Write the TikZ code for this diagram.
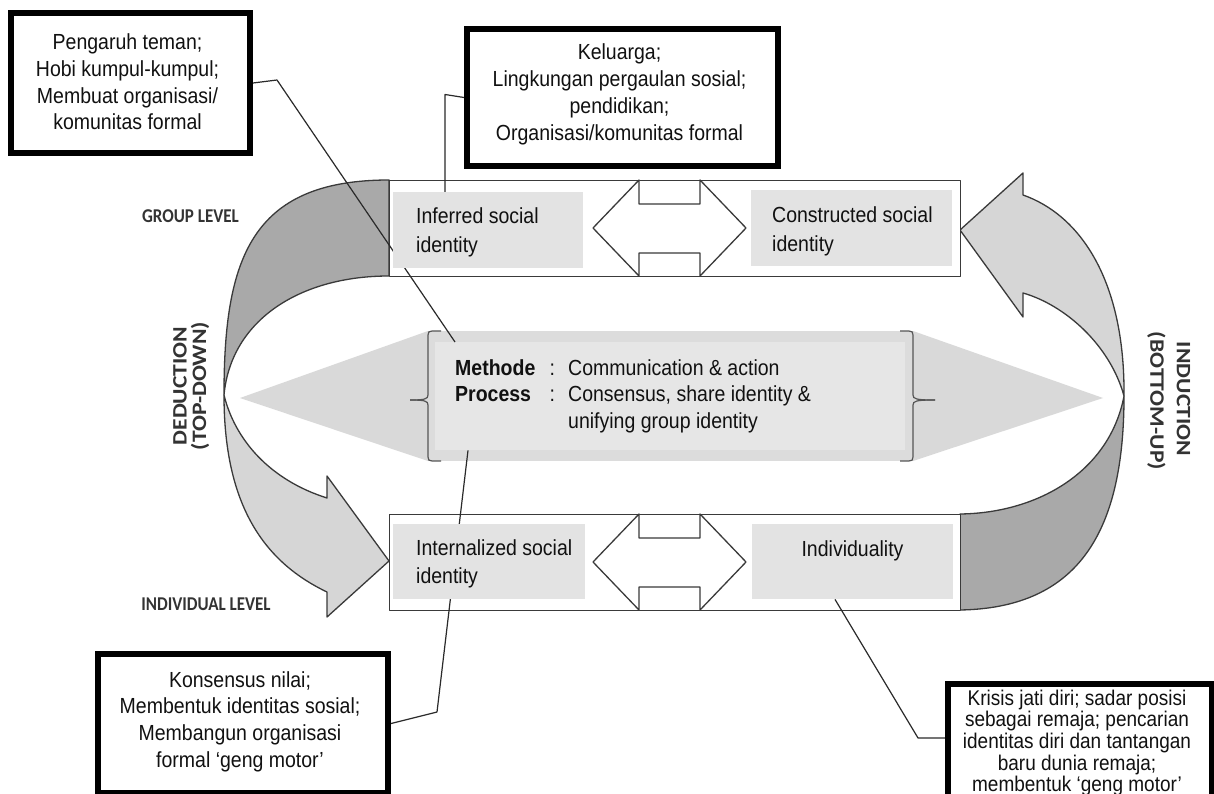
\documentclass[tikz,border=0pt]{standalone}
\usepackage{fontspec}
\setmainfont{Liberation Sans}
\newfontfamily\labfont{Carlito}
\usetikzlibrary{calc}
\pgfdeclarelayer{back}
\pgfdeclarelayer{mid}
\pgfsetlayers{back,mid,main}
\definecolor{lightarrow}{HTML}{D6D6D6}
\definecolor{darkarrow}{HTML}{A9A9A9}
\definecolor{conec}{HTML}{D9D9D9}
\definecolor{coreout}{HTML}{DCDCDC}
\definecolor{corein}{HTML}{E6E6E6}
\definecolor{idfill}{HTML}{E3E3E3}
\definecolor{edge}{HTML}{3A3A3A}
\definecolor{txt}{HTML}{111111}
\definecolor{labc}{HTML}{333333}
\definecolor{connc}{HTML}{2A2A2A}
\definecolor{brkc}{HTML}{555555}
\newcommand{\tall}[1]{\scalebox{1}[1.12]{#1}}
\begin{document}
\begin{tikzpicture}[x=1pt,y=-1pt,
  outline/.style={draw=edge,line width=1.3pt,line join=round},
  idbox/.style={fill=idfill,inner sep=0pt,anchor=north west},
  bandbox/.style={outline,fill=white,inner sep=0pt,anchor=north west},
  callout/.style={draw=black,line width=6pt,fill=white,inner sep=0pt,anchor=north west},
  conn/.style={draw=connc,line width=1.2pt,line join=round},
  bodytext/.style={inner sep=0pt,text=txt,font=\fontsize{19.5pt}{24.1pt}\selectfont},
  lab/.style={inner sep=0pt,text=labc,font=\labfont\bfseries\fontsize{17pt}{20pt}\selectfont},
  rlab/.style={inner sep=0pt,text=labc,font=\labfont\bfseries\fontsize{20.5pt}{24pt}\selectfont},
  brk/.style={draw=brkc,line width=1.2pt},
]
\useasboundingbox (0,0) rectangle (1214,794);
\begin{pgfonlayer}{back}
\fill[white] (0,0) rectangle (1214,794);
% cones and central box
\fill[conec] (240,398) -- (428,331) -- (428,461) -- cycle;
\fill[conec] (1103,398) -- (913,331) -- (913,461) -- cycle;
\fill[coreout] (428,331) rectangle (913,461);
\node[fill=corein,inner sep=0pt,minimum width=470pt,minimum height=108pt,anchor=north west] (core) at (435,342) {};
% brackets
\draw[brk] (441,331) -- (432,331) .. controls (429,331) and (428,332) .. (428,335) -- (428,395) .. controls (428,399) and (425,400) .. (410,400);
\draw[brk] (410,400) .. controls (425,400) and (428,401) .. (428,405) -- (428,457) .. controls (428,460) and (429,461) .. (432,461) -- (441,461);
\draw[brk] (900,331) -- (909,331) .. controls (912,331) and (913,332) .. (913,335) -- (913,395) .. controls (913,399) and (916,400) .. (935,400);
\draw[brk] (935,400) .. controls (916,400) and (913,401) .. (913,405) -- (913,457) .. controls (913,460) and (912,461) .. (909,461) -- (900,461);
% left curved arrow (deduction)
\filldraw[outline,fill=darkarrow] (389,180) .. controls (250,180) and (224,260) .. (224,395) .. controls (231,320) and (300,276) .. (389,276) -- cycle;
\filldraw[outline,fill=lightarrow] (224,395) .. controls (224,500) and (260,560) .. (327,592) -- (327,617) -- (389,561) -- (327,476) -- (327,498) .. controls (270,480) and (235,440) .. (224,395) -- cycle;
% right curved arrow (induction)
\filldraw[outline,fill=lightarrow] (960,230) -- (1023,173) -- (1023,195) .. controls (1080,215) and (1125,280) .. (1124,396) .. controls (1110,345) and (1065,305) .. (1023,293) -- (1023,317) -- cycle;
\filldraw[outline,fill=darkarrow] (1124,396) .. controls (1124,530) and (1080,608) .. (960,610) -- (960,514) .. controls (1040,513) and (1110,470) .. (1124,396) -- cycle;
% bands
\node[bandbox,minimum width=571pt,minimum height=96pt] (topband) at (389,180) {};
\node[bandbox,minimum width=571pt,minimum height=96pt] (botband) at (389,514) {};
\end{pgfonlayer}
% double arrows
\filldraw[outline,fill=white] (593,228) -- (639,180) -- (639,204) -- (700,204) -- (700,180) -- (746,228) -- (700,276) -- (700,253) -- (639,253) -- (639,276) -- cycle;
\filldraw[outline,fill=white] (593,562) -- (639,514) -- (639,538) -- (700,538) -- (700,514) -- (746,562) -- (700,610) -- (700,587) -- (639,587) -- (639,610) -- cycle;
% identity boxes
\node[idbox,minimum width=190pt,minimum height=76pt] (inf) at (393,192) {};
\node[idbox,minimum width=201pt,minimum height=76pt] (con) at (751,190) {};
\node[idbox,minimum width=192pt,minimum height=75pt] (intl) at (393,524) {};
\node[idbox,minimum width=201pt,minimum height=75pt] (indiv) at (752,524) {};
\node[bodytext,font=\fontsize{19.5pt}{25pt}\selectfont,anchor=base west] (inftxt) at (416,224) {\tall{\begin{tabular}[t]{@{}l@{}}Inferred social\\identity\end{tabular}}};
\node[bodytext,font=\fontsize{19.5pt}{25pt}\selectfont,anchor=base west] (contxt) at (772,223) {\tall{\begin{tabular}[t]{@{}l@{}}Constructed social\\identity\end{tabular}}};
\node[bodytext,font=\fontsize{19.5pt}{25pt}\selectfont,anchor=base west] (intltxt) at (416,555) {\tall{\begin{tabular}[t]{@{}l@{}}Internalized social\\identity\end{tabular}}};
\node[bodytext,anchor=base] (indivtxt) at (852.5,556) {\tall{Individuality}};
% central text
\node[bodytext,anchor=base west] (coretxt) at (455,375) {\tall{\begin{tabular}[t]{@{}l@{}}\makebox[94.5pt][l]{\bfseries Methode}\makebox[18.5pt][l]{:}Communication \& action\\\makebox[94.5pt][l]{\bfseries Process}\makebox[18.5pt][l]{:}Consensus, share identity \&\\\hspace*{113pt}unifying group identity\end{tabular}}};
% level labels
\node[lab] (glev) at (190.5,216) {\scalebox{1}[1.15]{GROUP LEVEL}};
\node[lab] (ilev) at (206,604) {\scalebox{1}[1.15]{INDIVIDUAL LEVEL}};
\node[rlab,rotate=90] (ded1) at (180,386) {\scalebox{1.15}[1]{DEDUCTION}};
\node[rlab,rotate=90] (ded2) at (200,386) {\scalebox{1.15}[1]{(TOP-DOWN)}};
\node[rlab,rotate=-90] (ind1) at (1183.5,399) {\scalebox{1.15}[1]{INDUCTION}};
\node[rlab,rotate=-90] (ind2) at (1156.5,401) {\scalebox{1.15}[1]{(BOTTOM-UP)}};
% callout boxes
\node[callout,minimum width=239pt,minimum height=140pt] (boxA) at (8,10) {};
\node[bodytext,font=\fontsize{19.5pt}{23.7pt}\selectfont,anchor=base] (boxAtxt) at (127.5,50) {\tall{\begin{tabular}[t]{@{}c@{}}Pengaruh teman;\\Hobi kumpul-kumpul;\\Membuat organisasi/\\komunitas formal\end{tabular}}};
\node[callout,minimum width=311pt,minimum height=137pt] (boxB) at (464,26) {};
\node[bodytext,anchor=base] (boxBtxt) at (619.5,60) {\tall{\begin{tabular}[t]{@{}c@{}}Keluarga;\\Lingkungan pergaulan sosial;\\pendidikan;\\Organisasi/komunitas formal\end{tabular}}};
\node[callout,minimum width=290pt,minimum height=139pt] (boxC) at (95,651) {};
\node[bodytext,anchor=base] (boxCtxt) at (240,687) {\tall{\begin{tabular}[t]{@{}c@{}}Konsensus nilai;\\Membentuk identitas sosial;\\Membangun organisasi\\formal ‘geng motor’\end{tabular}}};
\node[callout,minimum width=264pt,minimum height=150pt] (boxD) at (945,681) {};
\node[bodytext,font=\fontsize{19pt}{18.8pt}\selectfont,anchor=base] (boxDtxt) at (1077,705) {\tall{\begin{tabular}[t]{@{}c@{}}Krisis jati diri; sadar posisi\\sebagai remaja; pencarian\\identitas diri dan tantangan\\baru dunia remaja;\\membentuk ‘geng motor’\end{tabular}}};
% connectors
\begin{pgfonlayer}{mid}
\coordinate (aBend) at (277,80);
\draw[conn] (boxA.east) -- (aBend) -- ($(core.north west)+(20,0)$);
\coordinate (bBend) at (445,94.5);
\draw[conn] (boxB.west) -- (bBend) -- (bBend |- inf.north);
\coordinate (cBend) at (437,712);
\draw[conn] (boxC.east) -- (cBend) -- ($(core.south west)+(33,0)$);
\coordinate (dBend) at (918,738);
\draw[conn] ($(indiv.south west)+(83,0)$) -- (dBend) -- (dBend -| boxD.west);
\end{pgfonlayer}
\end{tikzpicture}
\end{document}
